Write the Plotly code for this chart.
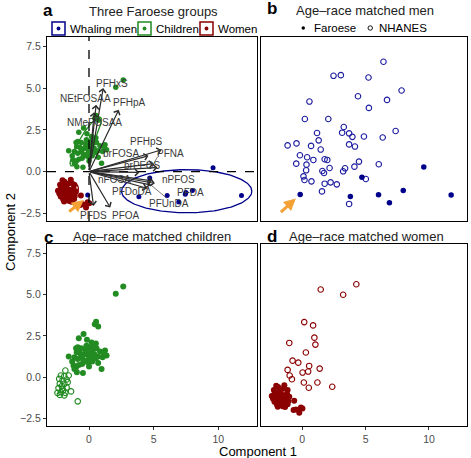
import numpy as np
import plotly.graph_objects as go

W, H = 471, 458
def PX(p): return p / W
def PY(p): return 1 - p / H

# ---------------- data ----------------
whale_x = [-0.10, 3.86, 4.70, 6.05, 6.95, 7.50, 7.45, 8.00, 9.60, 11.80]
whale_y = [-1.40, -1.50, -0.38, -1.42, -1.82, -1.25, -1.35, -1.12, 0.24, -1.42]

child_x = [2.65, 2.07, 0.45, 0.71, 0.55, -0.42, -0.79, -0.16, 0.53, -0.87, -0.60, -1.00, 0.05, 0.31, 0.58,
           1.24, -0.21, -0.34, -0.08, 0.18, -1.57, -1.13, -0.87, -0.60, 0.31, 0.53, 0.05, 1.36, 1.05, -0.34,
           -0.08, -0.53, -0.79, 0.71, -1.20, -1.00, -1.13, 0.00, 0.97, -0.94, -0.47, 0.42, -0.25, 0.15, -0.70,
           0.85, -0.45, 0.25, -0.95, 0.10, 0.40, -0.20, 0.70, -0.55, 0.20, 1.15, -1.30, -0.05]
child_y = [5.48, 5.04, 3.20, 3.07, 3.35, 2.61, 2.35, 2.27, 2.03, 1.81, 1.75, 1.75, 1.81, 1.70, 1.75,
           1.61, 1.55, 1.40, 1.34, 1.46, 1.25, 1.20, 1.10, 1.20, 1.31, 1.14, 1.07, 1.31, 1.20, 0.95,
           0.90, 0.80, 0.74, 0.86, 0.70, 0.60, 0.50, 0.64, 0.50, 0.30, 0.26, 1.95, 1.65, 1.15, 1.45,
           1.55, 1.05, 0.95, 1.50, 1.60, 1.40, 1.90, 1.25, 1.35, 2.10, 1.45, 0.95, 1.05]

women_x = [-2.05, -1.41, -2.24, -1.80, -1.15, -2.40, -1.98, -1.54, -1.02, -2.19, -1.80, -1.41, -0.63,
           -1.93, -1.54, -1.15, -0.49, -0.10, 0.02, -0.23, -0.68, -1.70, -1.60, -2.10, -1.30, -1.85,
           -1.50, -2.30, -1.20, -1.90, -1.65, -1.35, -2.00, -1.10, -1.45, -1.75, -2.20]
women_y = [-0.52, -0.48, -0.78, -0.89, -0.78, -1.14, -1.18, -1.08, -1.18, -1.49, -1.55, -1.49, -1.43,
           -1.79, -1.75, -1.63, -1.95, -1.83, -1.89, -2.15, -1.99, -1.00, -1.30, -0.95, -1.30, -1.35,
           -0.70, -1.30, -1.00, -0.60, -1.60, -1.80, -1.65, -1.45, -1.15, -0.80, -1.05]

faroe_men_x = [-0.16, 3.80, 4.71, 6.02, 6.88, 7.97, 9.59, 11.75]
faroe_men_y = [-1.36, -1.48, -0.34, -1.38, -1.86, -1.12, 0.28, -1.40]

nh_men_x = [6.41, 2.47, 3.05, 5.23, 7.84, 4.40, 0.57, 6.69, 5.26, 0.21, 2.06, 3.28, 3.15, 1.17, 3.70,
            3.96, 4.87, 6.35, 7.37, -1.15, -0.45, 0.70, 1.30, 3.70, 4.16, 1.46, -0.18, 0.39, 0.88, 1.77,
            1.98, -0.47, 0.34, 4.48, 3.38, 4.12, 6.04, 2.16, 1.59, 1.72, 3.23, 0.31, 0.10, 0.18, 0.73,
            1.77, 2.24, 2.73, 5.02, 1.56, 3.70]
nh_men_y = [6.57, 5.73, 5.77, 5.63, 4.85, 4.51, 4.19, 4.29, 3.81, 3.15, 3.15, 2.67, 2.33, 2.31, 2.29,
            2.08, 2.10, 2.04, 2.43, 1.57, 1.69, 1.54, 1.87, 1.63, 1.50, 1.32, 0.98, 0.86, 0.70, 0.74,
            0.70, 0.48, 0.42, 0.60, 0.20, 0.30, 0.44, 0.22, 0.04, -0.08, 0.02, 0.08, -0.28, -0.50, -0.58,
            -0.72, -0.64, -0.76, -0.44, -1.18, -1.93]

nh_child_x = [-1.83, -2.18, -1.91, -1.57, -2.31, -2.05, -1.73, -2.26, -1.91, -2.10, -2.36, -2.05, -1.73,
              -2.44, -2.18, -1.83, -1.39, -2.26, -1.91, -0.87, -2.00, -1.65]
nh_child_y = [0.40, 0.10, 0.06, 0.10, -0.10, -0.20, -0.14, -0.40, -0.40, -0.54, -0.66, -0.70, -0.62,
              -0.95, -0.90, -0.95, -0.86, -1.07, -1.10, -1.46, -0.80, -0.30]

nh_women_x = [1.46, 4.27, 3.23, 0.16, 0.86, 0.96, 1.04, -1.02, 0.29, -0.76, -0.31, 0.55, 1.38, -1.15,
              0.47, 0.03, -0.99, -0.81, 0.13, 1.20, 2.37, 0.52]
nh_women_y = [5.30, 5.62, 4.98, 3.33, 3.13, 2.39, 1.97, 2.07, 1.49, 1.00, 0.88, 0.68, 0.52, 0.44,
              0.34, 0.28, 0.10, -0.12, -0.32, -0.32, -0.58, -0.64]

# PCA loadings (arrow tips) and repelled label positions
load_names = ["PFHxS", "NEtFOSAA", "NMeFOSAA", "PFHpA", "PFHpS", "brFOSA", "PFNA", "brPFOS", "nFOSA",
              "nPFOS", "PFDA", "PFUnDA", "PFDoDA", "PFDS", "PFOA"]
load_x = [1.10, 0.55, 0.40, 2.30, 5.60, 4.60, 5.00, 5.30, 3.90, 4.90, 5.10, 4.80, 4.50, 0.35, 1.65]
load_y = [5.00, 4.00, 3.55, 3.70, 1.30, 0.95, 0.48, 0.25, -0.05, -0.55, -0.70, -0.80, -1.00, -2.05, -2.15]
label_x = [1.75, -0.25, 0.40, 3.15, 4.45, 2.50, 6.30, 4.10, 2.00, 6.90, 7.85, 6.20, 3.30, 0.35, 2.90]
label_y = [5.30, 4.40, 2.93, 4.15, 1.78, 1.10, 1.07, 0.38, -0.45, -0.45, -1.25, -1.90, -1.20, -2.62, -2.62]
leader_names = ["PFNA", "PFUnDA"]
leader_start_x = [5.30, 6.00]
leader_start_y = [0.88, -1.58]

# group ellipses: centre x, centre y, semi-major, semi-minor, angle (deg)
ell_groups = ["Whaling men", "Children", "Women"]
ell_cx = [7.56, -0.25, -1.55]
ell_cy = [-1.17, 1.80, -1.15]
ell_a = [5.04, 1.85, 0.75]
ell_b = [1.29, 0.45, 0.55]
ell_ang = [0.0, 51.0, 20.0]

x_ticks = [0, 5, 10]
y_ticks = [-2.5, 0, 2.5, 5, 7.5]
y_ticktext = ["\u22122.5", "0.0", "2.5", "5.0", "7.5"]

NAVY = "#00008B"
GREEN = "#228B22"
RED = "#8B0000"
ORANGE = "#F4A236"
FONT = "Liberation Sans, Arial, sans-serif"

# ---------------- layout geometry ----------------
xa = (47, 257); xb = (261, 467)
yt = (37, 221); yb = (244, 426)
XR = [-3.25, 13.0]
YR = [-2.95, 8.05]

fig = go.Figure()

def pts(x, y, color, ax, open_=False, size=6):
    fig.add_trace(go.Scatter(
        x=x, y=y, mode="markers", xaxis=ax[0], yaxis=ax[1], showlegend=False, hoverinfo="skip",
        marker=dict(symbol="circle-open" if open_ else "circle", size=size, color=color,
                    line=dict(width=1.1 if open_ else 0, color=color))))

def ellipse(i, ax, color):
    t = np.linspace(0, 2 * np.pi, 200)
    th = np.deg2rad(ell_ang[i])
    ex = ell_cx[i] + ell_a[i] * np.cos(t) * np.cos(th) - ell_b[i] * np.sin(t) * np.sin(th)
    ey = ell_cy[i] + ell_a[i] * np.cos(t) * np.sin(th) + ell_b[i] * np.sin(t) * np.cos(th)
    fig.add_trace(go.Scatter(x=ex, y=ey, mode="lines", xaxis=ax[0], yaxis=ax[1], showlegend=False,
                             hoverinfo="skip", line=dict(color=color, width=1.3)))

A = ("x", "y"); B = ("x2", "y2"); C = ("x3", "y3"); D = ("x4", "y4")

# panel a
pts(women_x, women_y, RED, A)
pts(child_x, child_y, GREEN, A, size=5.5)
pts(whale_x, whale_y, NAVY, A, size=5)
ellipse(0, A, NAVY)
ellipse(1, A, GREEN)
ellipse(2, A, RED)
for i, n in enumerate(leader_names):
    k = load_names.index(n)
    fig.add_trace(go.Scatter(x=[leader_start_x[i], load_x[k]], y=[leader_start_y[i], load_y[k]],
                             mode="lines", xaxis="x", yaxis="y", showlegend=False, hoverinfo="skip",
                             line=dict(color="#555555", width=0.8)))
# panel b
pts(nh_men_x, nh_men_y, "#1C1CA0", B, open_=True, size=5.5)
pts(faroe_men_x, faroe_men_y, NAVY, B, size=5.5)
# panel c
pts(nh_child_x, nh_child_y, GREEN, C, open_=True, size=5.5)
pts(child_x, child_y, GREEN, C)
# panel d
pts(nh_women_x, nh_women_y, RED, D, open_=True, size=5.5)
pts(women_x, women_y, RED, D)

def axis(dom, ticks=None, ticktext=None, rng=XR, anchor=None):
    d = dict(domain=dom, range=rng, showgrid=False, zeroline=False, showline=True, mirror=True,
             linecolor="black", linewidth=1.2, fixedrange=True, anchor=anchor)
    if ticks is None:
        d.update(ticks="", showticklabels=False)
    else:
        d.update(ticks="outside", ticklen=3, tickwidth=1, tickcolor="#333333", tickvals=ticks,
                 ticktext=ticktext if ticktext else [str(v) for v in ticks],
                 tickfont=dict(size=10.5, color="#4D4D4D", family=FONT))
    return d

dxa = [PX(xa[0]), PX(xa[1])]; dxb = [PX(xb[0]), PX(xb[1])]
dyt = [PY(yt[1]), PY(yt[0])]; dyb = [PY(yb[1]), PY(yb[0])]

fig.update_layout(
    width=W, height=H, margin=dict(l=0, r=0, t=0, b=0),
    paper_bgcolor="white", plot_bgcolor="white", font=dict(family=FONT),
    xaxis=axis(dxa, anchor="y"),
    yaxis=axis(dyt, y_ticks, y_ticktext, YR, anchor="x"),
    xaxis2=axis(dxb, anchor="y2"),
    yaxis2=axis(dyt, rng=YR, anchor="x2"),
    xaxis3=axis(dxa, x_ticks, anchor="y3"),
    yaxis3=axis(dyb, y_ticks, y_ticktext, YR, anchor="x3"),
    xaxis4=axis(dxb, x_ticks, anchor="y4"),
    yaxis4=axis(dyb, rng=YR, anchor="x4"),
)

shapes = []
# dashed reference lines in panel a
shapes.append(dict(type="line", xref="x", yref="y domain", x0=0, x1=0, y0=0, y1=1,
                   line=dict(color="black", width=1.3, dash="dash")))
shapes.append(dict(type="line", xref="x domain", yref="y", x0=0, x1=1, y0=0, y1=0,
                   line=dict(color="black", width=1.3, dash="dash")))

ann = []
# loading arrows
for i, n in enumerate(load_names):
    ann.append(dict(x=load_x[i], y=load_y[i], ax=0, ay=0, xref="x", yref="y", axref="x", ayref="y",
                    showarrow=True, arrowhead=4, arrowsize=1.1, arrowwidth=1.2, arrowcolor="#2B2B2B",
                    text="", standoff=0))
for i, n in enumerate(load_names):
    ann.append(dict(x=label_x[i], y=label_y[i], xref="x", yref="y", text=n, showarrow=False,
                    font=dict(size=10, color="#3A3A3A", family=FONT)))

# orange pointer arrows
orange = [((-1.65, -2.45), (-0.40, -1.70), "x", "y"), ((-1.80, -2.50), (-0.50, -1.60), "x2", "y2")]
for (s, e, xr, yr) in orange:
    ann.append(dict(x=e[0], y=e[1], ax=s[0], ay=s[1], xref=xr, yref=yr, axref=xr, ayref=yr,
                    showarrow=True, arrowhead=2, arrowsize=0.8, arrowwidth=3, arrowcolor=ORANGE,
                    text="", standoff=0))

def ptext(x, y, s, size=13, bold=False, xanchor="center", color="black", angle=0):
    ann.append(dict(x=PX(x), y=PY(y), xref="paper", yref="paper", text=f"<b>{s}</b>" if bold else s,
                    showarrow=False, xanchor=xanchor, yanchor="middle", textangle=angle,
                    font=dict(size=size, color=color, family=FONT)))

# panel letters & titles
ptext(48, 10, "a", 17, True)
ptext(272, 9, "b", 17, True)
ptext(48, 237, "c", 17, True)
ptext(272, 236, "d", 17, True)
ptext(153, 11, "Three Faroese groups", 13, color="#222222")
ptext(365, 10, "Age\u2013race matched men", 13, color="#222222")
ptext(152, 236, "Age\u2013race matched children", 13, color="#222222")
ptext(366, 236, "Age\u2013race matched women", 13, color="#222222")

# axis titles
ptext(258, 451, "Component 1", 13)
ptext(11, 232, "Component 2", 13, angle=-90)

# legend for panel a
leg_cols = [NAVY, GREEN, RED]
leg_box_x = [52, 138, 200]
leg_text = ["Whaling men", "Children", "Women"]
for bx, col, txt in zip(leg_box_x, leg_cols, leg_text):
    shapes.append(dict(type="rect", xref="paper", yref="paper", x0=PX(bx), x1=PX(bx + 13),
                       y0=PY(35), y1=PY(22), line=dict(color=col, width=1.5), fillcolor="white"))
    shapes.append(dict(type="circle", xref="paper", yref="paper", x0=PX(bx + 4.6), x1=PX(bx + 8.4),
                       y0=PY(30.4), y1=PY(26.6), line=dict(color=col, width=0), fillcolor=col))
    ptext(bx + 15.5, 29, txt, 11.5, xanchor="left")

# legend for panel b
shapes.append(dict(type="circle", xref="paper", yref="paper", x0=PX(301.5), x1=PX(305),
                   y0=PY(29.8), y1=PY(26.3), line=dict(color="black", width=0), fillcolor="black"))
ptext(312, 28, "Faroese", 11.5, xanchor="left")
shapes.append(dict(type="circle", xref="paper", yref="paper", x0=PX(368), x1=PX(372.5),
                   y0=PY(30.2), y1=PY(25.8), line=dict(color="black", width=0.9), fillcolor="white"))
ptext(377, 28, "NHANES", 11.5, xanchor="left")

fig.update_layout(shapes=shapes, annotations=ann)
fig.write_html("out.html", config={"displayModeBar": False},
               post_script="document.body.style.margin='0px';document.body.style.padding='0px';")
